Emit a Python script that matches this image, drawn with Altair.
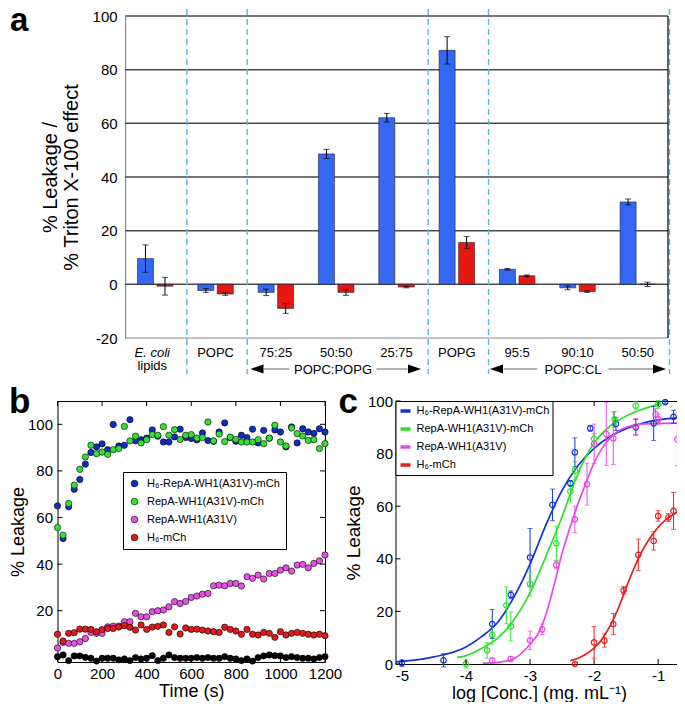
import altair as alt
import pandas as pd

FONT = "Liberation Sans"

# ---------------- panel a data ----------------
a_keys = ["E. coli lipids", "POPC", "75:25 PG", "50:50 PG", "25:75 PG", "POPG", "95:5 CL", "90:10 CL", "50:50 CL"]
a_labels = ["E. coli", "POPC", "75:25", "50:50", "25:75", "POPG", "95:5", "90:10", "50:50"]
a_series = ["blue", "red"]
a_blue = [9.6, -2.3, -3.0, 48.6, 62.1, 87.2, 5.6, -1.3, 30.7]
a_blue_err = [5.1, 0.7, 1.2, 1.7, 1.6, 5.1, 0.3, 0.7, 1.1]
a_red = [-0.7, -3.6, -9.0, -3.0, -1.0, 15.6, 3.2, -2.7, 0.0]
a_red_err = [3.3, 0.5, 1.8, 1.1, 0.3, 2.2, 0.3, 0.3, 0.8]
a_yticks = [-20, 0, 20, 40, 60, 80, 100]

# ---------------- panel b data ----------------
b_time = [0, 25, 50, 75, 100, 125, 150, 175, 200, 225, 250, 275, 300, 325, 350, 375, 400,
          425, 450, 475, 500, 525, 550, 575, 600, 625, 650, 675, 700, 725, 750, 775, 800,
          825, 850, 875, 900, 925, 950, 975, 1000, 1025, 1050, 1075, 1100, 1125, 1150, 1175, 1200]
b_names = ["H₆-RepA-WH1(A31V)-mCh", "RepA-WH1(A31V)-mCh", "RepA-WH1(A31V)", "H₆-mCh", "control"]
b_colors = ["#0c2ec6", "#35e035", "#e650e6", "#e01a1a", "#000000"]
b_blue = [65.0, 51.0, 64.6, 72.1, 76.3, 82.9, 87.9, 90.3, 91.6, 89.1, 99.9, 90.7, 91.0, 102.0, 92.9, 93.4, 94.1,
          97.6, 94.9, 92.4, 92.4, 94.6, 97.9, 94.3, 93.9, 93.3, 96.3, 93.0, 92.7, 96.7, 100.6, 94.3, 92.7,
          95.3, 94.3, 97.9, 92.0, 97.4, 94.0, 97.6, 96.7, 90.3, 98.9, 92.0, 98.1, 96.7, 96.1, 98.1, 96.7]
b_green = [55.7, 52.4, 66.0, 73.9, 80.7, 86.0, 91.0, 87.4, 88.1, 87.1, 89.1, 89.6, 99.1, 92.9, 94.9, 92.0, 93.4,
           95.6, 95.3, 99.0, 95.3, 97.7, 93.5, 95.3, 95.6, 94.1, 94.3, 101.0, 92.9, 95.8, 92.6, 94.5, 93.5,
           92.4, 92.4, 92.4, 93.4, 91.7, 94.1, 99.6, 92.4, 90.7, 98.4, 96.0, 95.0, 93.1, 93.4, 89.6, 91.7]
b_magenta = [4.0, 6.4, 6.0, 6.0, 6.7, 8.1, 10.7, 10.3, 10.3, 13.1, 13.4, 13.4, 15.3, 15.3, 18.9, 17.4, 17.4,
             19.6, 20.0, 20.3, 21.7, 23.9, 23.1, 24.0, 25.7, 26.3, 27.1, 27.4, 30.7, 31.0, 30.7, 31.7, 31.7,
             30.6, 34.6, 33.9, 35.3, 33.6, 36.0, 36.0, 37.4, 38.4, 37.0, 39.6, 39.9, 38.4, 40.3, 41.4, 43.9]
b_red = [9.9, 7.0, 10.3, 10.6, 12.1, 12.1, 12.0, 11.0, 11.9, 12.4, 12.4, 13.0, 13.6, 12.9, 11.7, 13.9, 12.0,
         13.0, 13.3, 13.9, 10.7, 13.1, 10.0, 12.6, 12.0, 12.1, 11.7, 11.3, 11.0, 10.7, 12.9, 12.0, 11.3,
         9.9, 12.0, 9.9, 9.6, 10.7, 10.3, 8.6, 11.0, 9.6, 10.3, 10.7, 10.3, 9.9, 9.6, 9.9, 9.3]
b_black = [0.3, 1.0, -1.4, 0.6, 0.6, 0.0, -0.4, -1.6, -0.4, -0.4, -0.4, -1.1, -0.7, -1.4, -0.1, -0.7, -0.4,
           0.7, -1.4, -0.4, 1.0, -0.1, -0.4, -0.4, -0.4, -0.1, -0.4, -0.1, -0.4, -0.4, 0.3, -0.4, -0.7,
           -1.4, -0.7, -1.6, -0.1, 0.6, 1.0, 0.7, 0.6, -0.1, 0.3, -0.1, -0.4, -0.4, -0.7, -0.1, 0.3]
b_xticks = [0, 200, 400, 600, 800, 1000, 1200]
b_yticks = [20, 40, 60, 80, 100]

# ---------------- panel c data ----------------
c_names = ["H₆-RepA-WH1(A31V)-mCh", "RepA-WH1(A31V)-mCh", "RepA-WH1(A31V)", "H₆-mCh"]
c_colors = ["#1432d8", "#2ee02e", "#e84ae8", "#e01e1e"]
c_blue_x = [-5.0, -4.35, -3.59, -3.3, -3.0, -2.65, -2.37, -2.3, -2.06, -1.66, -1.35, -1.07, -0.89, -0.76]
c_blue_y = [0.3, 1.4, 15.2, 26.3, 40.5, 60.5, 68.7, 80.5, 89.6, 91.3, 90.0, 91.5, 99.6, 94.0]
c_blue_e = [1.2, 2.5, 5.5, 1.5, 11.0, 6.0, 1.0, 5.5, 1.0, 2.5, 3.0, 6.5, 0.5, 2.5]
c_green_x = [-4.0, -3.67, -3.59, -3.37, -3.3, -3.0, -2.59, -2.37, -2.3, -2.0, -1.68, -1.35, -1.0]
c_green_y = [0.0, 5.2, 11.1, 22.3, 14.3, 30.4, 45.9, 65.6, 73.5, 85.6, 93.0, 98.2, 98.7]
c_green_e = [1.5, 3.0, 3.5, 7.0, 5.5, 4.5, 6.5, 4.0, 3.5, 2.0, 3.0, 1.5, 1.5]
c_mag_x = [-3.59, -3.3, -3.0, -2.81, -2.59, -2.3, -2.11, -2.0, -1.81, -1.7, -1.35, -1.04, -1.0, -0.7]
c_mag_y = [1.3, 1.9, 9.0, 13.2, 37.6, 55.0, 68.4, 83.7, 87.5, 85.8, 90.3, 95.0, 93.0, 85.4]
c_mag_e = [1.0, 1.0, 3.5, 2.0, 1.5, 5.0, 8.0, 7.5, 12.0, 10.0, 3.0, 2.0, 2.0, 10.0]
c_red_x = [-2.3, -2.0, -1.84, -1.7, -1.54, -1.31, -1.07, -1.0, -0.84, -0.76]
c_red_y = [0.0, 8.2, 8.9, 15.2, 28.0, 41.5, 46.8, 56.3, 55.7, 58.2]
c_red_e = [0.5, 6.0, 2.5, 4.0, 1.5, 6.0, 3.5, 2.0, 1.5, 7.0]
# fitted curves
cb_x = [-5.1, -5.0, -4.5, -4.0, -3.75, -3.5, -3.25, -3.0, -2.75, -2.5, -2.25, -2.0, -1.75, -1.5, -1.25, -1.0, -0.62]
cb_y = [0.8, 1.0, 2.7, 6.5, 10.5, 16.0, 25.5, 38.0, 53.0, 66.0, 75.5, 82.0, 86.5, 89.5, 91.5, 92.8, 93.7]
cg_x = [-4.14, -4.0, -3.75, -3.5, -3.25, -3.0, -2.75, -2.5, -2.25, -2.0, -1.75, -1.5, -1.25, -0.96]
cg_y = [2.5, 3.2, 6.0, 9.9, 16.8, 27.0, 41.0, 56.0, 72.5, 84.0, 90.5, 94.3, 96.8, 98.9]
cm_x = [-3.74, -3.5, -3.25, -3.0, -2.875, -2.75, -2.625, -2.5, -2.375, -2.25, -2.125, -2.0, -1.875, -1.75, -1.5, -1.25, -1.0, -0.62]
cm_y = [0.3, 0.6, 2.0, 7.5, 11.5, 19.0, 30.0, 42.0, 52.0, 61.0, 69.0, 76.5, 82.0, 86.0, 90.0, 91.2, 91.5, 91.6]
cr_x = [-2.37, -2.25, -2.125, -2.0, -1.875, -1.75, -1.625, -1.5, -1.375, -1.25, -1.125, -1.0, -0.875, -0.7]
cr_y = [1.3, 2.2, 3.8, 6.0, 9.5, 14.5, 21.0, 29.0, 36.5, 43.0, 48.0, 52.0, 55.0, 57.8]
c_xticks = [-5, -4, -3, -2, -1]
c_yticks = [0, 20, 40, 60, 80, 100]

dummy = pd.DataFrame({"d": [0]})


def vtext(s, x, y, size=13, weight="normal", style="normal", align="center", color="black"):
    return alt.Chart(dummy).mark_text(text=s, font=FONT, fontSize=size, fontWeight=weight, fontStyle=style,
                                      align=align, baseline="alphabetic", color=color).encode(
        x=alt.value(x), y=alt.value(y))


def hseg(x1, x2, y, color="#9a9a9a", width=1.5):
    return alt.Chart(dummy).mark_rule(color=color, strokeWidth=width).encode(
        x=alt.value(x1), x2=alt.value(x2), y=alt.value(y))


LEFT_HEAD = "M-1,0L1,-0.7L1,0.7Z"
RIGHT_HEAD = "M1,0L-1,-0.7L-1,0.7Z"


def head(x, y, shape):
    return alt.Chart(dummy).mark_point(shape=shape, filled=True, color="black", opacity=1, size=170).encode(
        x=alt.value(x), y=alt.value(y))


# ================= PANEL A =================
W_A, H_A = 610.5, 322
Q = 0.56
STEP = W_A / (9 + 2 * Q)
LEFT0 = 2 * Q * STEP

df_a = pd.DataFrame({
    "cat": a_keys * 2,
    "series": [a_series[0]] * 9 + [a_series[1]] * 9,
    "value": a_blue + a_red,
    "err": a_blue_err + a_red_err,
})
df_a["lo"] = df_a["value"] - df_a["err"]
df_a["hi"] = df_a["value"] + df_a["err"]
df_caps = pd.concat([df_a.assign(cap=df_a["lo"]), df_a.assign(cap=df_a["hi"])])

xa_scale = alt.Scale(domain=a_keys, paddingInner=0, paddingOuter=Q, align=1)
xoff_scale = alt.Scale(domain=a_series, paddingInner=0.18, paddingOuter=0.637)
ya_scale = alt.Scale(domain=[-20, 100], nice=False, zero=False)
ya_axis = alt.Axis(values=a_yticks, grid=False, ticks=False, domainColor="#8a8a8a", domainWidth=1.2,
                   labelFontSize=15, labelPadding=8, labelColor="black",
                   labelExpr="toString(datum.value)", offset=-LEFT0,
                   title=["% Leakage /", "% Triton X-100 effect"], titleFontSize=20,
                   titleFontWeight="normal", titleLineHeight=21, titlePadding=11, titleColor="black")
xa = alt.X("cat:N", scale=xa_scale, axis=None)

grid_a = alt.Chart(pd.DataFrame({"value": a_yticks[1:]})).mark_rule(color="#4a4a4a", strokeWidth=1.5).encode(
    x=alt.value(LEFT0), x2=alt.value(W_A), y=alt.Y("value:Q", scale=ya_scale, axis=ya_axis))

dash_a = alt.Chart(pd.DataFrame({"cat": [a_keys[0], a_keys[1], a_keys[4], a_keys[5], a_keys[8]]})).mark_rule(
    color="#58b6e6", strokeWidth=1.4, strokeDash=[6, 4], xOffset=1.5).encode(
    x=alt.X("cat:N", scale=xa_scale, axis=None, bandPosition=1),
    y=alt.value(-7), y2=alt.value(H_A + 36))

bars_a = alt.Chart(df_a).mark_bar(stroke="#1e1e3a", strokeWidth=0.6).encode(
    x=xa,
    xOffset=alt.XOffset("series:N", scale=xoff_scale),
    y=alt.Y("value:Q", scale=ya_scale, axis=ya_axis, stack=None),
    color=alt.Color("series:N", scale=alt.Scale(domain=a_series, range=["#3468f2", "#e8170f"]), legend=None),
)
err_a = alt.Chart(df_a).mark_rule(color="black", strokeWidth=1).encode(
    x=xa, xOffset=alt.XOffset("series:N", scale=xoff_scale),
    y=alt.Y("lo:Q", scale=ya_scale, axis=ya_axis), y2="hi:Q")
caps_a = alt.Chart(df_caps).mark_tick(color="black", size=6, thickness=1, orient="horizontal").encode(
    x=xa, xOffset=alt.XOffset("series:N", scale=xoff_scale),
    y=alt.Y("cap:Q", scale=ya_scale, axis=ya_axis))

bottom_a = hseg(LEFT0, W_A, H_A, color="#8a8a8a", width=1.2)
right_a = alt.Chart(dummy).mark_rule(color="black", strokeWidth=1.2).encode(
    x=alt.value(W_A), y=alt.value(0), y2=alt.value(H_A))

lab_a = alt.Chart(pd.DataFrame({"cat": a_keys[1:], "label": a_labels[1:]})).mark_text(
    font=FONT, fontSize=13, baseline="alphabetic").encode(x=xa, y=alt.value(H_A + 18.5), text="label:N")
ecoli_a = alt.Chart(pd.DataFrame({"cat": [a_keys[0]], "label": [a_labels[0]]})).mark_text(
    font=FONT, fontSize=13, fontStyle="italic", baseline="alphabetic", dx=-3).encode(
    x=xa, y=alt.value(H_A + 18.5), text="label:N")
lipids_a = alt.Chart(pd.DataFrame({"cat": [a_keys[0]], "label": ["lipids"]})).mark_text(
    font=FONT, fontSize=13, baseline="alphabetic", dx=-3).encode(
    x=xa, y=alt.value(H_A + 32), text="label:N")

AY = H_A + 31
arrows = [
    head(199.5, AY, LEFT_HEAD), hseg(206.5, 232, AY), vtext("POPC:POPG", 275.5, AY + 4.5),
    hseg(319, 350, AY), head(357, AY, RIGHT_HEAD),
    head(439, AY, LEFT_HEAD), hseg(446, 480, AY), vtext("POPC:CL", 515.5, AY + 4.5),
    hseg(551, 596, AY), head(602, AY, RIGHT_HEAD),
]
letter_a = vtext("a", -47.5, 15, size=33, weight="bold", align="left")

panel_a = alt.layer(grid_a, dash_a, bars_a, err_a, caps_a, bottom_a, right_a,
                    lab_a, ecoli_a, lipids_a, *arrows, letter_a).properties(width=W_A, height=H_A)

# ================= PANEL B =================
W_B, H_B = 267.5, 261
series_b = [b_blue, b_green, b_magenta, b_red, b_black]
df_b = pd.concat([pd.DataFrame({"time": b_time, "value": vals, "seriesB": name})
                  for name, vals in zip(b_names, series_b)])

xb_scale = alt.Scale(domain=[0, 1200], nice=False, zero=False)
yb_scale = alt.Scale(domain=[-2, 110], nice=False, zero=False)
xb_axis = alt.Axis(values=b_xticks, ticks=False, domain=False, grid=False, labelFontSize=15,
                   labelPadding=4, labelColor="black", labelFlush=False,
                   labelExpr="toString(datum.value)",
                   title="Time (s)", titleFontSize=18, titleFontWeight="normal", titlePadding=1,
                   titleColor="black")
yb_axis = alt.Axis(values=b_yticks, ticks=False, domain=False, grid=False, labelFontSize=15,
                   labelPadding=5, labelColor="black",
                   title="% Leakage", titleFontSize=18, titleFontWeight="normal", titlePadding=0,
                   titleColor="black")

pts_b = alt.Chart(df_b).mark_circle(size=40, opacity=1, stroke="black", strokeWidth=0.6).encode(
    x=alt.X("time:Q", scale=xb_scale, axis=xb_axis),
    y=alt.Y("value:Q", scale=yb_scale, axis=yb_axis),
    color=alt.Color("seriesB:N", scale=alt.Scale(domain=b_names, range=b_colors),
                    legend=alt.Legend(orient="none", legendX=65.5, legendY=71, title=None,
                                      values=b_names[:4], labelFontSize=11, labelFont=FONT,
                                      labelColor="black", labelLimit=300,
                                      symbolType="circle", symbolSize=45, symbolStrokeColor="black",
                                      symbolStrokeWidth=0.6, strokeColor="black", fillColor="white",
                                      padding=6, rowPadding=6, labelOffset=7, cornerRadius=0)),
)


def inward(xvals, yvals, W, H, xfield, yfield, xs, ys, xax, yax):
    dfx = pd.DataFrame({xfield: xvals})
    dfy = pd.DataFrame({yfield: yvals})
    X = alt.X(f"{xfield}:Q", scale=xs, axis=xax)
    Y = alt.Y(f"{yfield}:Q", scale=ys, axis=yax)
    return [
        alt.Chart(dfx).mark_rule(color="black").encode(x=X, y=alt.value(H), y2=alt.value(H - 5)),
        alt.Chart(dfx).mark_rule(color="black").encode(x=X, y=alt.value(0), y2=alt.value(5)),
        alt.Chart(dfy).mark_rule(color="black").encode(y=Y, x=alt.value(0), x2=alt.value(5)),
        alt.Chart(dfy).mark_rule(color="black").encode(y=Y, x=alt.value(W - 5), x2=alt.value(W)),
    ]


ticks_b = inward(b_xticks, b_yticks, W_B, H_B, "time", "value", xb_scale, yb_scale, xb_axis, yb_axis)
letter_b = vtext("b", -48.5, 12, size=35, weight="bold", align="left")

panel_b = alt.layer(pts_b, *ticks_b, letter_b).properties(
    width=W_B, height=H_B, view=alt.ViewBackground(stroke="black", strokeWidth=1))

# ================= PANEL C =================
W_C, H_C = 287, 263
pts_sets = [(c_blue_x, c_blue_y, c_blue_e), (c_green_x, c_green_y, c_green_e),
            (c_mag_x, c_mag_y, c_mag_e), (c_red_x, c_red_y, c_red_e)]
df_c = pd.concat([pd.DataFrame({"logc": xs, "value": ys, "err": es, "seriesC": name})
                  for name, (xs, ys, es) in zip(c_names, pts_sets)])
df_c["lo"] = df_c["value"] - df_c["err"]
df_c["hi"] = df_c["value"] + df_c["err"]
df_ccaps = pd.concat([df_c.assign(cap=df_c["lo"]), df_c.assign(cap=df_c["hi"])])
curve_sets = [(cb_x, cb_y), (cg_x, cg_y), (cm_x, cm_y), (cr_x, cr_y)]
df_curve = pd.concat([pd.DataFrame({"logc": xs, "value": ys, "seriesC": name})
                      for name, (xs, ys) in zip(c_names, curve_sets)])

xc_scale = alt.Scale(domain=[-5.1, -0.62], nice=False, zero=False)
yc_scale = alt.Scale(domain=[0, 100], nice=False, zero=False)
xc_axis = alt.Axis(values=c_xticks, ticks=False, domain=False, grid=False, labelFontSize=15,
                   labelPadding=4, labelColor="black", labelFlush=False,
                   labelExpr="toString(datum.value)",
                   title="log [Conc.]  (mg. mL⁻¹)", titleFontSize=18, titleFontWeight="normal",
                   titlePadding=1, titleColor="black")
yc_axis = alt.Axis(values=c_yticks, ticks=False, domain=False, grid=False, labelFontSize=15,
                   labelPadding=3, labelColor="black", labelFlush=False,
                   title="% Leakage", titleFontSize=19, titleFontWeight="normal", titlePadding=4,
                   titleColor="black")
cscale = alt.Scale(domain=c_names, range=c_colors)
XC = alt.X("logc:Q", scale=xc_scale, axis=xc_axis)

curves_c = alt.Chart(df_curve).mark_line(strokeWidth=1.7, interpolate="monotone").encode(
    x=XC, y=alt.Y("value:Q", scale=yc_scale, axis=yc_axis),
    color=alt.Color("seriesC:N", scale=cscale,
                    legend=alt.Legend(orient="none", legendX=0, legendY=0, title=None,
                                      labelFontSize=11, labelFont=FONT, labelColor="black",
                                      labelLimit=300, symbolType="stroke", symbolStrokeWidth=3.5,
                                      symbolSize=100, strokeColor="black", fillColor="white",
                                      padding=3, rowPadding=4, labelOffset=4, cornerRadius=0)),
)
err_c = alt.Chart(df_c).mark_rule(strokeWidth=1).encode(
    x=XC, y=alt.Y("lo:Q", scale=yc_scale, axis=yc_axis), y2="hi:Q",
    color=alt.Color("seriesC:N", scale=cscale, legend=None))
caps_c = alt.Chart(df_ccaps).mark_tick(size=5, thickness=1, orient="horizontal").encode(
    x=XC, y=alt.Y("cap:Q", scale=yc_scale, axis=yc_axis),
    color=alt.Color("seriesC:N", scale=cscale, legend=None))
pts_c = alt.Chart(df_c).mark_point(filled=False, size=30, strokeWidth=1.2, opacity=1).encode(
    x=XC, y=alt.Y("value:Q", scale=yc_scale, axis=yc_axis),
    color=alt.Color("seriesC:N", scale=cscale, legend=None))

ticks_c = inward(c_xticks, c_yticks, W_C, H_C, "logc", "value", xc_scale, yc_scale, xc_axis, yc_axis)
letter_c = vtext("c", -57, 12, size=35, weight="bold", align="left")

panel_c = alt.layer(curves_c, err_c, caps_c, pts_c, *ticks_c, letter_c).properties(
    width=W_C, height=H_C, view=alt.ViewBackground(stroke="black", strokeWidth=1))

# ================= LAYOUT =================
bottom_row = alt.hconcat(panel_b, panel_c, spacing=70, bounds="flush").resolve_scale(color="independent")
chart = alt.vconcat(panel_a, bottom_row, spacing=63, bounds="flush").resolve_scale(
    color="independent").properties(
    autosize=alt.AutoSizeParams(type="none"),
    padding={"left": 49.5, "top": 8, "right": 619.5, "bottom": 686},
).configure_view(stroke="transparent").configure_axis(labelFont=FONT, titleFont=FONT)

chart.save("out.html", embed_options={"renderer": "svg", "actions": False})
